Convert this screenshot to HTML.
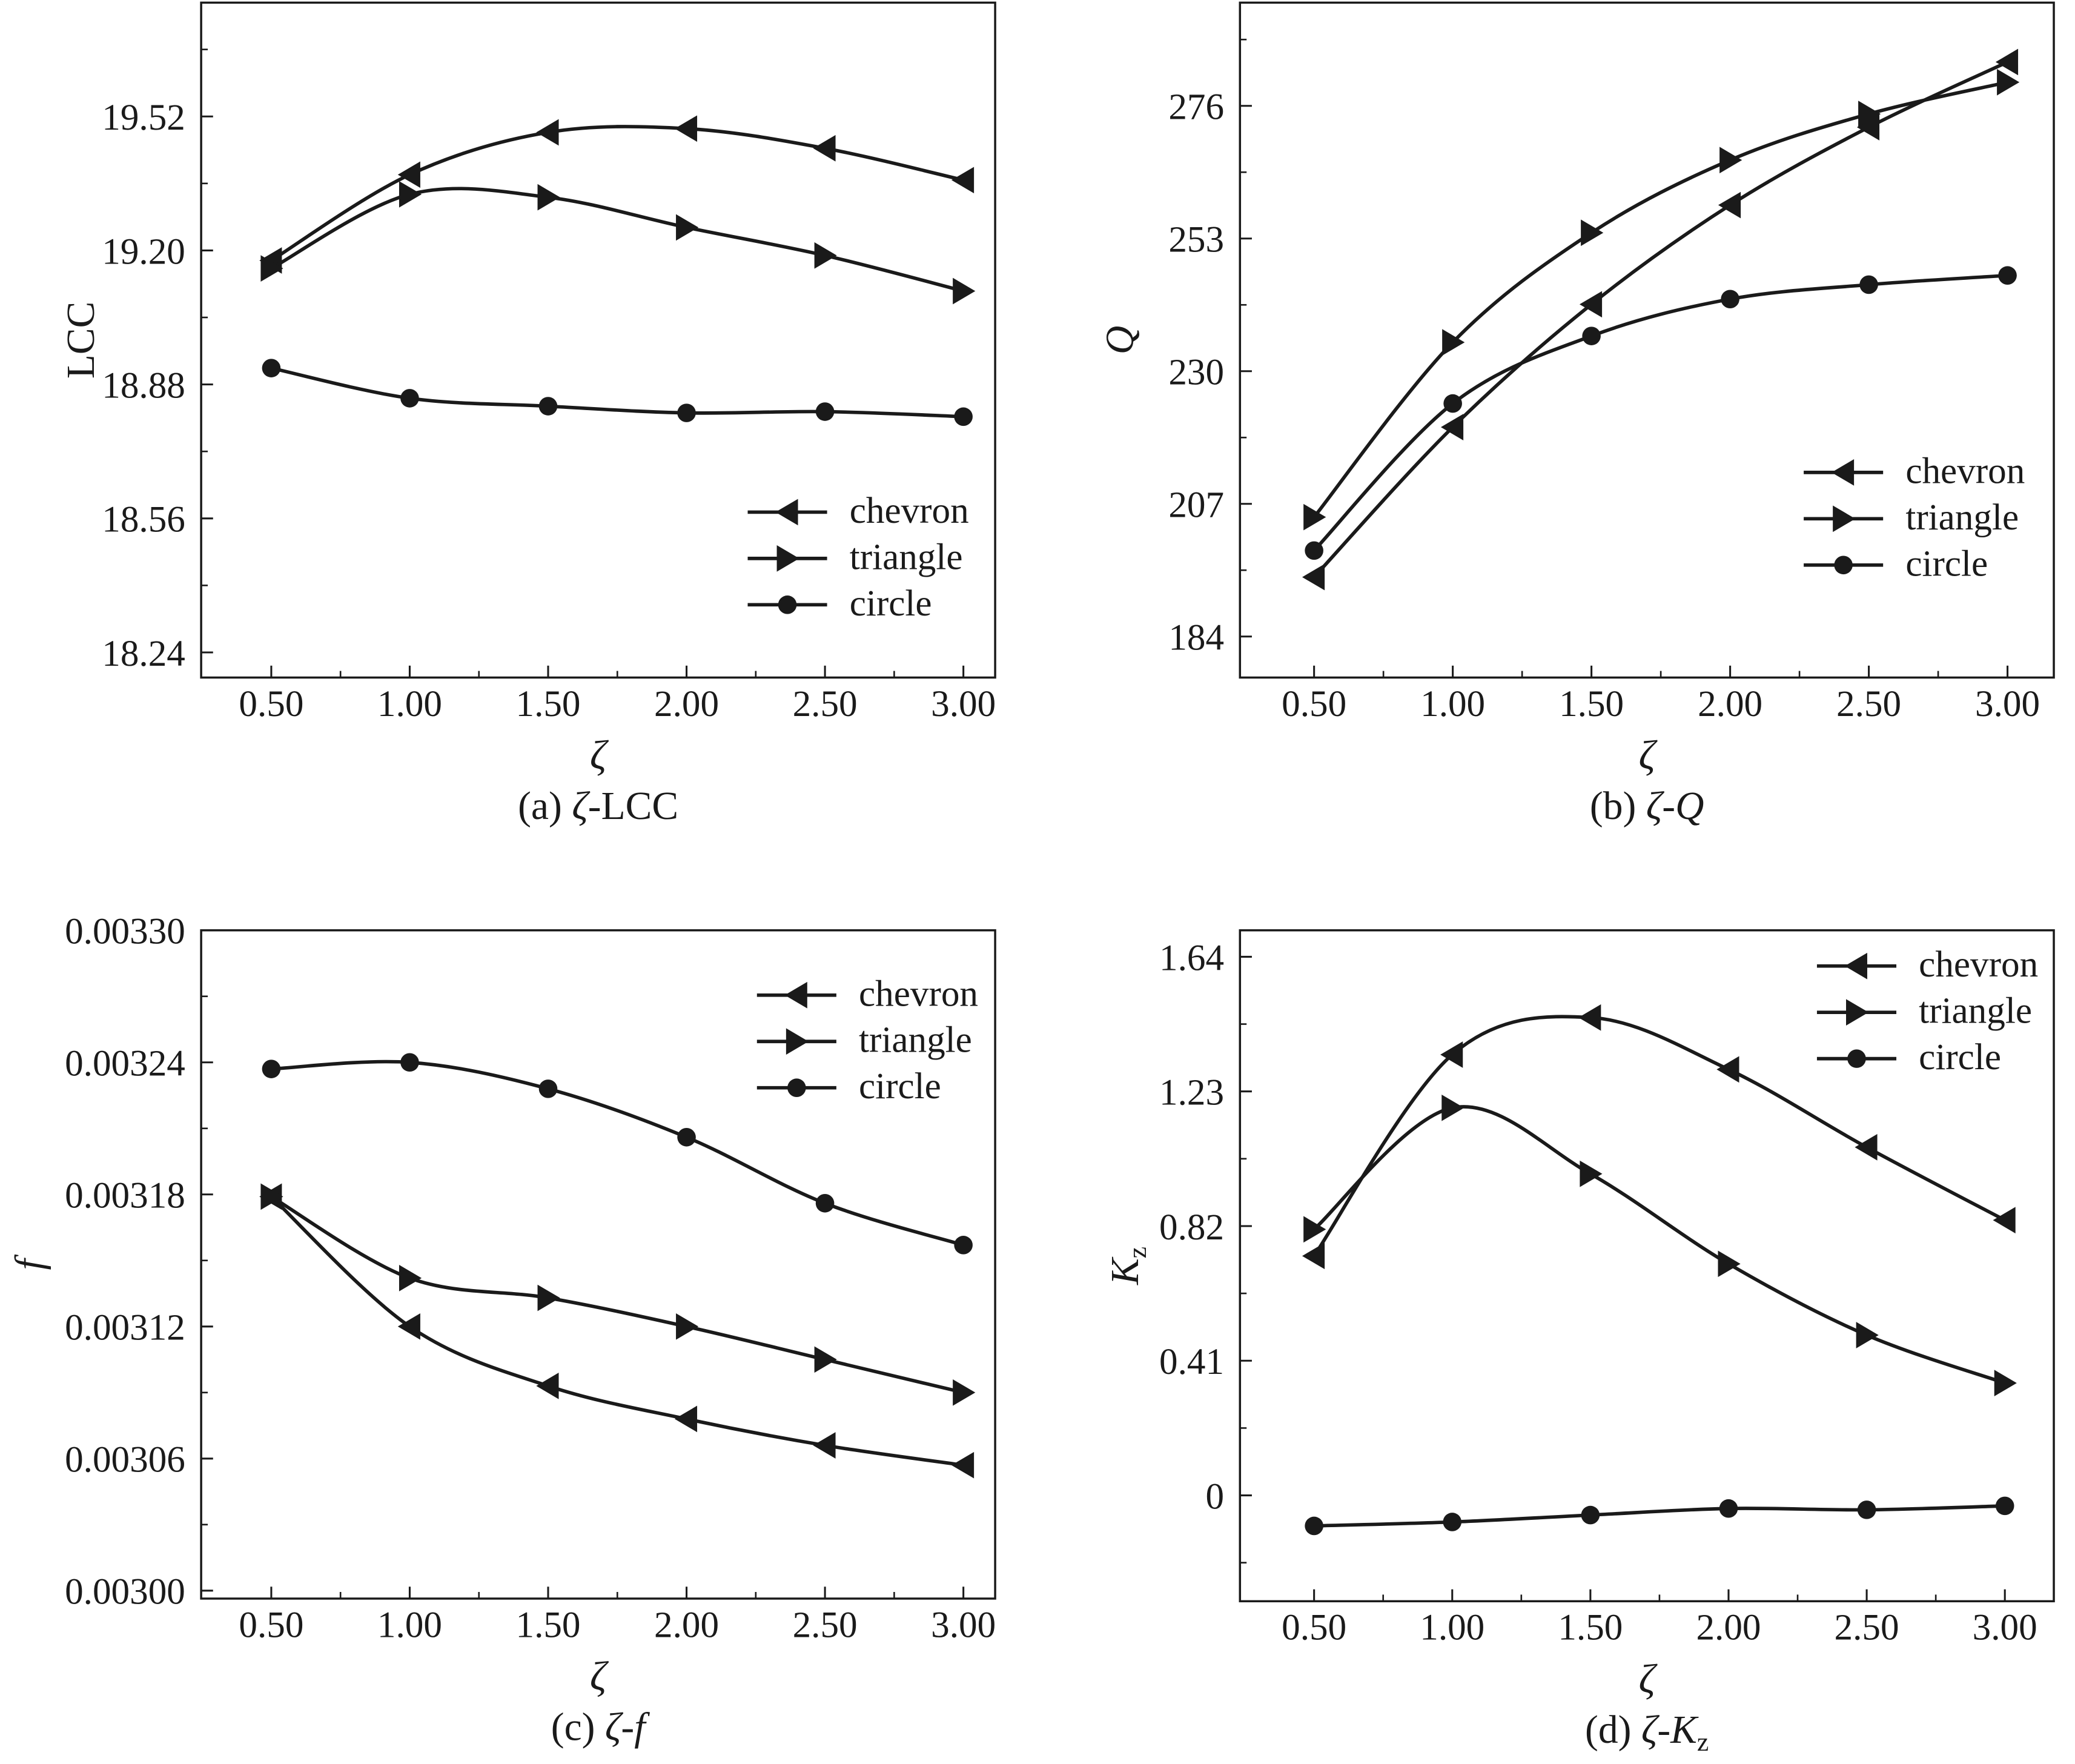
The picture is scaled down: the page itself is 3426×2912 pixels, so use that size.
<!DOCTYPE html>
<html><head><meta charset="utf-8"><style>
html,body{margin:0;padding:0;background:#fff}
svg{display:block}
text{font-family:"Liberation Serif",serif;fill:#1a1a1a}
</style></head><body>
<svg id="chart" width="3426" height="2912" viewBox="0 0 1568 1333" preserveAspectRatio="none" xmlns="http://www.w3.org/2000/svg"></svg>
<script>
const xCats = [0.5, 1.0, 1.5, 2.0, 2.5, 3.0];
const xTickLabels = ["0.50","1.00","1.50","2.00","2.50","3.00"];
const seriesNames = ["chevron","triangle","circle"];
// (a) LCC
const lccChevron = [19.176, 19.381, 19.482, 19.491, 19.444, 19.368];
const lccTriangle = [19.157, 19.334, 19.327, 19.255, 19.188, 19.103];
const lccCircle = [18.919, 18.847, 18.828, 18.812, 18.815, 18.803];
const lccTicks = [19.52, 19.20, 18.88, 18.56, 18.24];
const lccTickLabels = ["19.52","19.20","18.88","18.56","18.24"];
// (b) Q
const qChevron = [194.3, 220.3, 241.6, 258.8, 272.3, 283.6];
const qTriangle = [204.7, 235.0, 254.0, 266.6, 274.6, 280.1];
const qCircle = [198.9, 224.4, 236.1, 242.5, 245.0, 246.6];
const qTicks = [276, 253, 230, 207, 184];
const qTickLabels = ["276","253","230","207","184"];
// (c) f
const fChevron = [0.003179, 0.003120, 0.003093, 0.003078, 0.003066, 0.003057];
const fTriangle = [0.003179, 0.003142, 0.003133, 0.003120, 0.003105, 0.003090];
const fCircle = [0.003237, 0.003240, 0.003228, 0.003206, 0.003176, 0.003157];
const fTicks = [0.00330, 0.00324, 0.00318, 0.00312, 0.00306, 0.00300];
const fTickLabels = ["0.00330","0.00324","0.00318","0.00312","0.00306","0.00300"];
// (d) Kz
const kChevron = [0.729, 1.342, 1.455, 1.297, 1.060, 0.838];
const kTriangle = [0.810, 1.180, 0.979, 0.705, 0.488, 0.342];
const kCircle = [-0.093, -0.081, -0.060, -0.040, -0.044, -0.032];
const kTicks = [1.64, 1.23, 0.82, 0.41, 0];
const kTickLabels = ["1.64","1.23","0.82","0.41","0"];

const svg = document.getElementById('chart');
const NS = 'http://www.w3.org/2000/svg';
function mk(tag, attrs, parent){ const e=document.createElementNS(NS,tag); for(const k in attrs) e.setAttribute(k,attrs[k]); (parent||svg).appendChild(e); return e; }

function spline(pts){
  let d='M'+pts[0][0]+','+pts[0][1];
  for(let i=0;i<pts.length-1;i++){
    const p0=pts[i-1]||pts[i], p1=pts[i], p2=pts[i+1], p3=pts[i+2]||p2;
    const c1=[p1[0]+(p2[0]-p0[0])/6, p1[1]+(p2[1]-p0[1])/6];
    const c2=[p2[0]-(p3[0]-p1[0])/6, p2[1]-(p3[1]-p1[1])/6];
    d+=' C'+c1[0]+','+c1[1]+' '+c2[0]+','+c2[1]+' '+p2[0]+','+p2[1];
  }
  return d;
}
function marker(g, kind, x, y){
  let m;
  if(kind==='chevron') m=mk('polygon',{points:`${x-9},${y} ${x+8},${y-10} ${x+8},${y+10}`,fill:'#1a1a1a'},g);
  else if(kind==='triangle') m=mk('polygon',{points:`${x+9},${y} ${x-8},${y-10} ${x-8},${y+10}`,fill:'#1a1a1a'},g);
  else m=mk('circle',{cx:x,cy:y,r:7,fill:'#1a1a1a'},g);
  return m;
}

function panel(p){
  const g = mk('g',{});
  
  
  const xs = v => p.x0 + (v-0.5)*(p.x1-p.x0)/2.5;
  const ys = v => p.yA + (p.vA - v)*(p.yB-p.yA)/(p.vA-p.vB);
  const box = mk('rect',{x:p.L,y:p.T,width:p.R-p.L,height:p.B-p.T,fill:'none',stroke:'#1a1a1a','stroke-width':1.6},g);
  
  
  xCats.forEach((v,i)=>{
    const x=xs(v);
    mk('line',{x1:x,y1:p.B,x2:x,y2:p.B-9,stroke:'#1a1a1a','stroke-width':1.4},g);
    if(i<xCats.length-1){ const xm=xs(v+0.25); mk('line',{x1:xm,y1:p.B,x2:xm,y2:p.B-5,stroke:'#1a1a1a','stroke-width':1.2},g); }
    const t=mk('text',{x:x,y:p.B+29,'text-anchor':'middle','font-size':28},g);
    t.textContent=xTickLabels[i];
    
    
  });
  const step = p.ticks[0]-p.ticks[1];
  p.ticks.forEach((v,i)=>{
    const y=ys(v);
    mk('line',{x1:p.L,y1:y,x2:p.L+9,y2:y,stroke:'#1a1a1a','stroke-width':1.4},g);
    const t=mk('text',{x:p.L-12,y:y+10,'text-anchor':'end','font-size':28},g);
    t.textContent=p.tickLabels[i];
    
    
  });
  for(let v=p.ticks[0]+step/2; v>p.ticks[p.ticks.length-1]-step; v-=step){
    const y=ys(v); if(y>p.T+2 && y<p.B-2) mk('line',{x1:p.L,y1:y,x2:p.L+5,y2:y,stroke:'#1a1a1a','stroke-width':1.2},g);
  }
  [[p.s[0],'chevron'],[p.s[1],'triangle'],[p.s[2],'circle']].forEach(([vals,kind])=>{
    const sg=mk('g',{},g);
    
    
    const pts=vals.map((v,i)=>[xs(xCats[i]),ys(v)]);
    mk('path',{d:spline(pts),fill:'none',stroke:'#1a1a1a','stroke-width':2.6},sg);
    pts.forEach(pt=>{ const m=marker(sg,kind,pt[0],pt[1]);   });
  });
  const lg=mk('g',{},g);
  
  
  seriesNames.forEach((n,i)=>{
    const y=p.legY+i*35;
    const eg=mk('g',{},lg);
    
    
    mk('line',{x1:p.legX,y1:y,x2:p.legX+60,y2:y,stroke:'#1a1a1a','stroke-width':2.6},eg);
    marker(eg,n,p.legX+30,y);
    const t=mk('text',{x:p.legX+77,y:y+8,'font-size':28},eg);
    t.textContent=n;
  });
  const cx=(p.L+p.R)/2;
  const xt=mk('text',{x:cx,y:p.B+69,'text-anchor':'middle','font-size':31,'font-style':'italic'},g);
  xt.textContent='ζ';
  
  
  const yt=mk('text',{x:0,y:0,'text-anchor':'middle','font-size':30,transform:`translate(${p.yTitleX},${(p.T+p.B)/2}) rotate(-90)`},g);
  yt.innerHTML=p.yTitle;
  
  
  const cap=mk('text',{x:cx,y:p.B+107,'text-anchor':'middle','font-size':30},g);
  cap.innerHTML=p.caption;
  
  
}

panel({name:'panel-a-lcc',L:152,R:752,T:2,B:512,x0:205,x1:728,yA:88,vA:19.52,yB:493,vB:18.24,
  ticks:lccTicks,tickLabels:lccTickLabels,s:[lccChevron,lccTriangle,lccCircle],legX:565,legY:387,
  yTitleX:71,yTitle:'LCC',caption:'(a) <tspan font-style="italic">ζ</tspan>-LCC'});
panel({name:'panel-b-q',L:937,R:1552,T:2,B:512,x0:993,x1:1517,yA:80,vA:276,yB:481,vB:184,
  ticks:qTicks,tickLabels:qTickLabels,s:[qChevron,qTriangle,qCircle],legX:1363,legY:357,
  yTitleX:856,yTitle:'<tspan font-style="italic">Q</tspan>',caption:'(b) <tspan font-style="italic">ζ-Q</tspan>'});
panel({name:'panel-c-f',L:152,R:752,T:703,B:1208,x0:205,x1:728,yA:703,vA:0.00330,yB:1202,vB:0.00300,
  ticks:fTicks,tickLabels:fTickLabels,s:[fChevron,fTriangle,fCircle],legX:572,legY:752,
  yTitleX:32,yTitle:'<tspan font-style="italic">f</tspan>',caption:'(c) <tspan font-style="italic">ζ-f</tspan>'});
panel({name:'panel-d-kz',L:937,R:1552,T:703,B:1210,x0:993,x1:1515,yA:723,vA:1.64,yB:1130,vB:0,
  ticks:kTicks,tickLabels:kTickLabels,s:[kChevron,kTriangle,kCircle],legX:1373,legY:730,
  yTitleX:860,yTitle:'<tspan font-style="italic">K</tspan><tspan font-size="20" dy="6">z</tspan>',caption:'(d) <tspan font-style="italic">ζ-K</tspan><tspan font-size="20" dy="6">z</tspan>'});
</script>
</body></html>
